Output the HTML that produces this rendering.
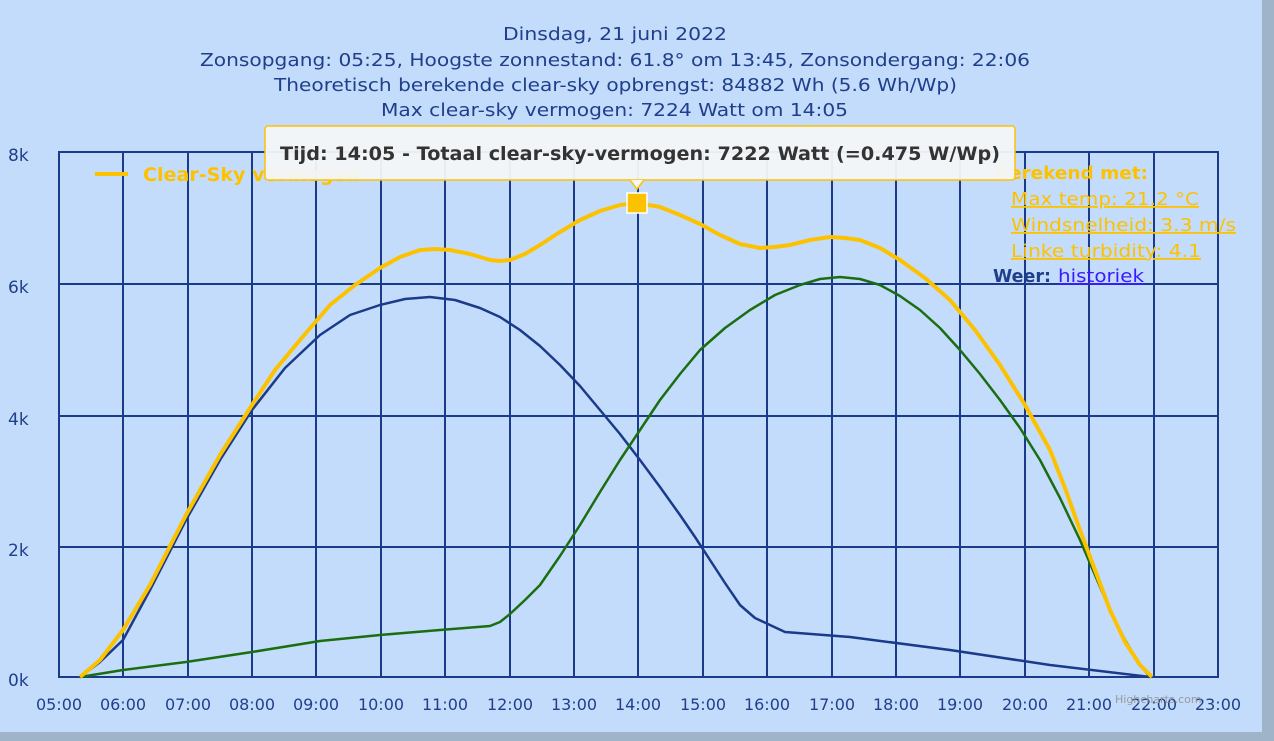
<!DOCTYPE html>
<html><head><meta charset="utf-8"><style>
body{margin:0;width:1274px;height:741px;overflow:hidden;background:#c4dcfb;font-family:"DejaVu Sans",sans-serif}
svg text{font-family:"DejaVu Sans",sans-serif}
</style></head><body>
<svg width="1274" height="741" xmlns="http://www.w3.org/2000/svg" style="position:absolute;left:0;top:0">
<rect x="0" y="0" width="1274" height="741" fill="#c4dcfb"/>
<rect x="1262" y="0" width="12" height="741" fill="#9fb3c9"/>
<rect x="0" y="732" width="1274" height="9" fill="#9fb3c9"/>
<g font-size="18" fill="#1f3f8c">
<text x="503" y="40" textLength="224" lengthAdjust="spacingAndGlyphs">Dinsdag, 21 juni 2022</text>
<text x="200" y="66" textLength="830" lengthAdjust="spacingAndGlyphs">Zonsopgang: 05:25, Hoogste zonnestand: 61.8° om 13:45, Zonsondergang: 22:06</text>
<text x="274" y="91" textLength="683" lengthAdjust="spacingAndGlyphs">Theoretisch berekende clear-sky opbrengst: 84882 Wh (5.6 Wh/Wp)</text>
<text x="381" y="116" textLength="467" lengthAdjust="spacingAndGlyphs">Max clear-sky vermogen: 7224 Watt om 14:05</text>
</g>
<g stroke="#1a3a8a" stroke-width="2" fill="none">
<rect x="59" y="152" width="1159" height="525"/>
<path d="M123 152V677M188 152V677M252 152V677M316 152V677M381 152V677M445 152V677M510 152V677M574 152V677M638 152V677M703 152V677M767 152V677M832 152V677M896 152V677M960 152V677M1025 152V677M1089 152V677M1154 152V677"/>
<path d="M59 284H1218M59 416H1218M59 547H1218"/>
</g>
<g font-size="17" fill="#1f3f8c">
<text x="8" y="161">8k</text><text x="8" y="293">6k</text><text x="8" y="425">4k</text><text x="8" y="556">2k</text><text x="8" y="686">0k</text>
</g>
<g font-size="16" fill="#1f3f8c" text-anchor="middle">
<text x="59" y="710">05:00</text><text x="123" y="710">06:00</text><text x="188" y="710">07:00</text><text x="252" y="710">08:00</text><text x="316" y="710">09:00</text><text x="381" y="710">10:00</text><text x="445" y="710">11:00</text><text x="510" y="710">12:00</text><text x="574" y="710">13:00</text><text x="638" y="710">14:00</text><text x="703" y="710">15:00</text><text x="767" y="710">16:00</text><text x="832" y="710">17:00</text><text x="896" y="710">18:00</text><text x="960" y="710">19:00</text><text x="1025" y="710">20:00</text><text x="1089" y="710">21:00</text><text x="1154" y="710">22:00</text><text x="1218" y="710">23:00</text>
</g>
<text x="1115" y="703" font-size="11" fill="#999">Highcharts.com</text>
<polyline fill="none" stroke="#1a3a8a" stroke-width="2.5" stroke-linejoin="round" points="80,677 100,662 123,640 150,590 186,520 220,460 252,410 285,368 320,335 350,315 380,305 405,299 430,297 455,300 480,308 500,317 520,330 540,346 560,365 580,386 600,410 620,434 640,460 660,487 680,515 695,537 710,560 725,583 740,605 755,618 770,625 785,632 850,637 950,650 1050,665 1150,677"/>
<polyline fill="none" stroke="#1a6e10" stroke-width="2.5" stroke-linejoin="round" points="80,677 123,670 186,662 252,652 320,641 380,635 440,630 490,626 500,622 510,614 525,600 540,585 560,556 580,525 600,492 620,460 640,430 660,400 680,374 700,350 725,328 750,310 775,295 800,285 820,279 840,277 860,279 880,285 900,296 920,310 940,328 960,350 980,374 1000,400 1020,428 1040,460 1060,498 1080,540 1095,575 1110,610 1125,640 1140,665 1150,677"/>
<polyline fill="none" stroke="#fcc200" stroke-width="4" stroke-linejoin="round" points="80,677 100,660 123,630 150,585 186,515 220,455 252,405 275,370 300,340 330,305 355,285 380,268 400,257 420,250 435,249 450,250 470,254 490,260 500,261 510,260 525,254 540,245 560,232 580,220 600,211 620,205 637,203 660,207 680,215 700,224 720,235 740,244 760,248 775,247 790,245 810,240 830,237 845,238 860,240 880,248 900,260 925,278 950,300 975,330 1000,365 1025,405 1050,450 1065,488 1080,530 1095,570 1110,610 1125,642 1140,665 1152,677"/>
<line x1="95" y1="174" x2="128" y2="174" stroke="#fcc200" stroke-width="4"/>
<text x="143" y="181" font-size="19" font-weight="bold" fill="#fcc200" textLength="217" lengthAdjust="spacingAndGlyphs">Clear-Sky vermogen</text>
<g font-size="18" fill="#fcc200">
<text x="995" y="179" font-weight="bold" textLength="153" lengthAdjust="spacingAndGlyphs">Berekend met:</text>
<text x="1011" y="205" text-decoration="underline" textLength="188" lengthAdjust="spacingAndGlyphs">Max temp: 21.2 °C</text>
<text x="1011" y="231" text-decoration="underline" textLength="225" lengthAdjust="spacingAndGlyphs">Windsnelheid: 3.3 m/s</text>
<text x="1011" y="257" text-decoration="underline" textLength="190" lengthAdjust="spacingAndGlyphs">Linke turbidity: 4.1</text>
</g>
<text x="993" y="282" font-size="18" font-weight="bold" fill="#1f3f8c" textLength="58" lengthAdjust="spacingAndGlyphs">Weer:</text>
<text x="1058" y="282" font-size="18" fill="#3a1aff" text-decoration="underline" textLength="86" lengthAdjust="spacingAndGlyphs">historiek</text>
<rect x="265" y="126" width="750" height="54" rx="3" fill="#f4f5f8" fill-opacity="0.95" stroke="#fcc200" stroke-width="1.5"/>
<path d="M630 180 L637 189 L644 180" fill="#f4f5f8" stroke="#fcc200" stroke-width="1.5"/>
<text x="280" y="160" font-size="19" font-weight="bold" fill="#333" textLength="720" lengthAdjust="spacingAndGlyphs">Tijd: 14:05 - Totaal clear-sky-vermogen: 7222 Watt (=0.475 W/Wp)</text>
<rect x="627" y="193" width="20" height="20" fill="#fcc200" stroke="#fff" stroke-width="1.5"/>
</svg>
</body></html>
